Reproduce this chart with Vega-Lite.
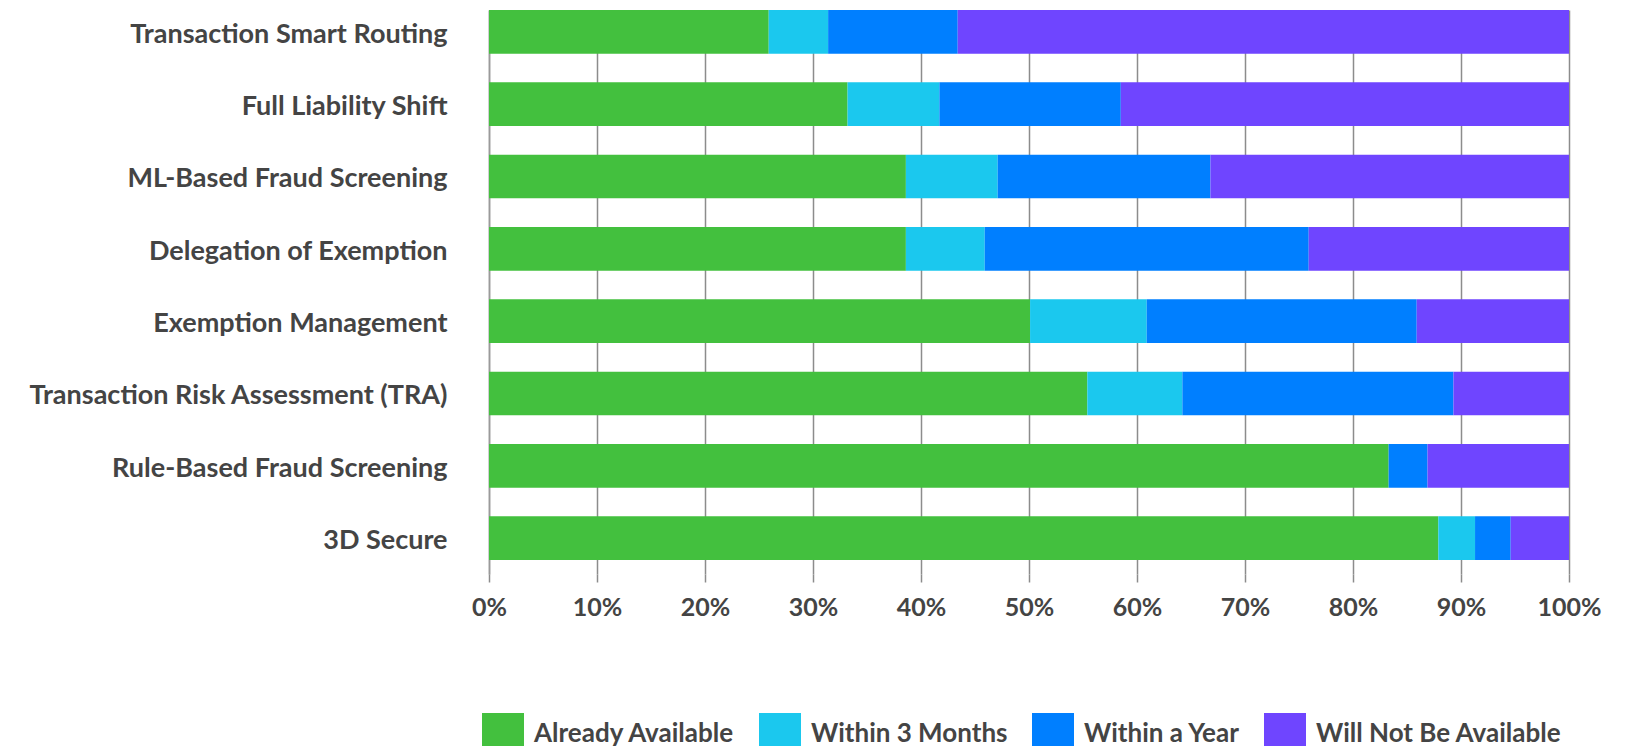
{
  "$schema": "https://vega.github.io/schema/vega-lite/v6.json",
  "autosize": {"type": "none"},
  "padding": {"left": 489, "top": 10, "right": 67, "bottom": 172},
  "width": 1080,
  "height": 564,
  "background": "#ffffff",
  "data": {
    "values": [
      {"feature": "Transaction Smart Routing", "status": "Already Available", "rank": 1, "share": 25.9},
      {"feature": "Transaction Smart Routing", "status": "Within 3 Months", "rank": 2, "share": 5.5},
      {"feature": "Transaction Smart Routing", "status": "Within a Year", "rank": 3, "share": 12.0},
      {"feature": "Transaction Smart Routing", "status": "Will Not Be Available", "rank": 4, "share": 56.6},
      {"feature": "Full Liability Shift", "status": "Already Available", "rank": 1, "share": 33.2},
      {"feature": "Full Liability Shift", "status": "Within 3 Months", "rank": 2, "share": 8.5},
      {"feature": "Full Liability Shift", "status": "Within a Year", "rank": 3, "share": 16.8},
      {"feature": "Full Liability Shift", "status": "Will Not Be Available", "rank": 4, "share": 41.5},
      {"feature": "ML-Based Fraud Screening", "status": "Already Available", "rank": 1, "share": 38.6},
      {"feature": "ML-Based Fraud Screening", "status": "Within 3 Months", "rank": 2, "share": 8.5},
      {"feature": "ML-Based Fraud Screening", "status": "Within a Year", "rank": 3, "share": 19.7},
      {"feature": "ML-Based Fraud Screening", "status": "Will Not Be Available", "rank": 4, "share": 33.2},
      {"feature": "Delegation of Exemption", "status": "Already Available", "rank": 1, "share": 38.6},
      {"feature": "Delegation of Exemption", "status": "Within 3 Months", "rank": 2, "share": 7.3},
      {"feature": "Delegation of Exemption", "status": "Within a Year", "rank": 3, "share": 30.0},
      {"feature": "Delegation of Exemption", "status": "Will Not Be Available", "rank": 4, "share": 24.1},
      {"feature": "Exemption Management", "status": "Already Available", "rank": 1, "share": 50.1},
      {"feature": "Exemption Management", "status": "Within 3 Months", "rank": 2, "share": 10.8},
      {"feature": "Exemption Management", "status": "Within a Year", "rank": 3, "share": 25.0},
      {"feature": "Exemption Management", "status": "Will Not Be Available", "rank": 4, "share": 14.1},
      {"feature": "Transaction Risk Assessment (TRA)", "status": "Already Available", "rank": 1, "share": 55.4},
      {"feature": "Transaction Risk Assessment (TRA)", "status": "Within 3 Months", "rank": 2, "share": 8.8},
      {"feature": "Transaction Risk Assessment (TRA)", "status": "Within a Year", "rank": 3, "share": 25.1},
      {"feature": "Transaction Risk Assessment (TRA)", "status": "Will Not Be Available", "rank": 4, "share": 10.7},
      {"feature": "Rule-Based Fraud Screening", "status": "Already Available", "rank": 1, "share": 83.3},
      {"feature": "Rule-Based Fraud Screening", "status": "Within 3 Months", "rank": 2, "share": 0},
      {"feature": "Rule-Based Fraud Screening", "status": "Within a Year", "rank": 3, "share": 3.6},
      {"feature": "Rule-Based Fraud Screening", "status": "Will Not Be Available", "rank": 4, "share": 13.1},
      {"feature": "3D Secure", "status": "Already Available", "rank": 1, "share": 87.9},
      {"feature": "3D Secure", "status": "Within 3 Months", "rank": 2, "share": 3.4},
      {"feature": "3D Secure", "status": "Within a Year", "rank": 3, "share": 3.3},
      {"feature": "3D Secure", "status": "Will Not Be Available", "rank": 4, "share": 5.4}
    ]
  },
  "mark": {"type": "bar"},
  "encoding": {
    "y": {
      "field": "feature",
      "type": "nominal",
      "sort": ["Transaction Smart Routing", "Full Liability Shift", "ML-Based Fraud Screening", "Delegation of Exemption", "Exemption Management", "Transaction Risk Assessment (TRA)", "Rule-Based Fraud Screening", "3D Secure"],
      "scale": {"paddingInner": 0.396, "paddingOuter": 0.097, "align": 0},
      "axis": {
        "title": null,
        "ticks": false,
        "tickSize": 0,
        "grid": false,
        "domain": true,
        "domainColor": "#9a9a9a",
        "domainWidth": 1.5,
        "labelPadding": 42,
        "labelOffset": 3,
        "labelFont": "Lato",
        "labelFontWeight": "bold",
        "labelFontSize": 27,
        "labelColor": "#444444",
        "labelLimit": 0
      }
    },
    "x": {
      "field": "share",
      "type": "quantitative",
      "stack": "zero",
      "scale": {"domain": [0, 100], "nice": false},
      "axis": {
        "title": null,
        "values": [0, 10, 20, 30, 40, 50, 60, 70, 80, 90, 100],
        "labelExpr": "datum.value + '%'",
        "grid": true,
        "gridColor": "#8c8c8c",
        "gridWidth": 1.5,
        "ticks": true,
        "tickColor": "#8c8c8c",
        "tickWidth": 1.5,
        "tickSize": 8,
        "domain": false,
        "labelPadding": 13,
        "labelFont": "Lato",
        "labelFontWeight": "bold",
        "labelFontSize": 25,
        "labelColor": "#444444",
        "labelFlush": false,
        "labelOverlap": false
      }
    },
    "color": {
      "field": "status",
      "type": "nominal",
      "scale": {
        "domain": ["Already Available", "Within 3 Months", "Within a Year", "Will Not Be Available"],
        "range": ["#43c03e", "#1bc8ee", "#007fff", "#6f45ff"]
      },
      "legend": {
        "title": null,
        "orient": "none",
        "direction": "horizontal",
        "legendX": -7,
        "legendY": 703,
        "symbolType": "square",
        "symbolSize": 1764,
        "symbolStrokeWidth": 0,
        "symbolOpacity": 1,
        "labelFont": "Lato",
        "labelFontWeight": "bold",
        "labelFontSize": 26,
        "labelColor": "#444444",
        "labelOffset": 10,
        "columnPadding": 24,
        "labelLimit": 0,
        "padding": 0
      }
    },
    "order": {"field": "rank", "type": "quantitative"}
  },
  "config": {
    "view": {"stroke": null},
    "axis": {"gridOpacity": 1}
  }
}
